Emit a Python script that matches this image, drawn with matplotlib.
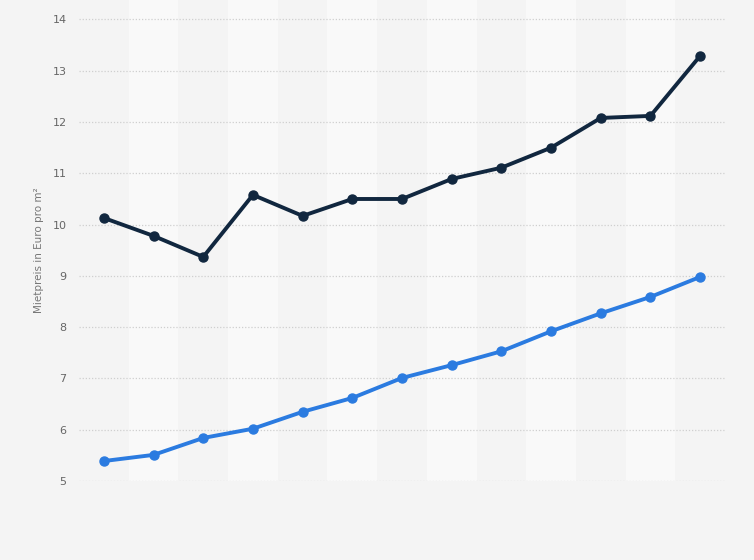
import matplotlib
matplotlib.use("Agg")
import matplotlib.pyplot as plt

# values (13 periods, no category labels shown)
periods = list(range(13))
dark_series = [10.13, 9.78, 9.37, 10.58, 10.17, 10.50, 10.50, 10.89, 11.11, 11.50, 12.08, 12.12, 13.29]
blue_series = [5.39, 5.51, 5.84, 6.02, 6.35, 6.62, 7.01, 7.26, 7.53, 7.92, 8.27, 8.59, 8.98]
y_ticks = [5, 6, 7, 8, 9, 10, 11, 12, 13, 14]
y_label = "Mietpreis in Euro pro m²"

BG = "#f4f4f4"
BAND = "#f9f9f9"
DARK = "#11273f"
BLUE = "#2b7be0"

fig = plt.figure(figsize=(7.54, 5.60), dpi=100, facecolor=BG)
ax = fig.add_axes([0.1048, 0.141, 0.8567, 0.859])
ax.set_facecolor(BG)

# alternating column bands
for i in periods:
    if i % 2 == 1:
        ax.axvspan(i - 0.5, i + 0.5, color=BAND, zorder=0, lw=0)

for y in y_ticks:
    ax.axhline(y, color="#cfcfcf", lw=0.9, ls=(0, (1, 1.5)), zorder=1)

ax.plot(periods, dark_series, color=DARK, lw=2.8, marker="o", ms=6.5, zorder=3)
ax.plot(periods, blue_series, color=BLUE, lw=2.8, marker="o", ms=6.5, zorder=3)

ax.set_xlim(-0.5, 12.5)
ax.set_ylim(5, 14.38)
ax.set_xticks([])
ax.set_yticks(y_ticks)
ax.set_yticklabels([str(v) for v in y_ticks], color="#666666", fontsize=8)
ax.tick_params(axis="y", length=0, pad=9)
for side in ax.spines.values():
    side.set_visible(False)

ax.set_ylabel(y_label, color="#777777", fontsize=7.5)
ax.yaxis.set_label_coords(-0.054, 0.48)

fig.savefig("out.png", dpi=100, facecolor=BG)
